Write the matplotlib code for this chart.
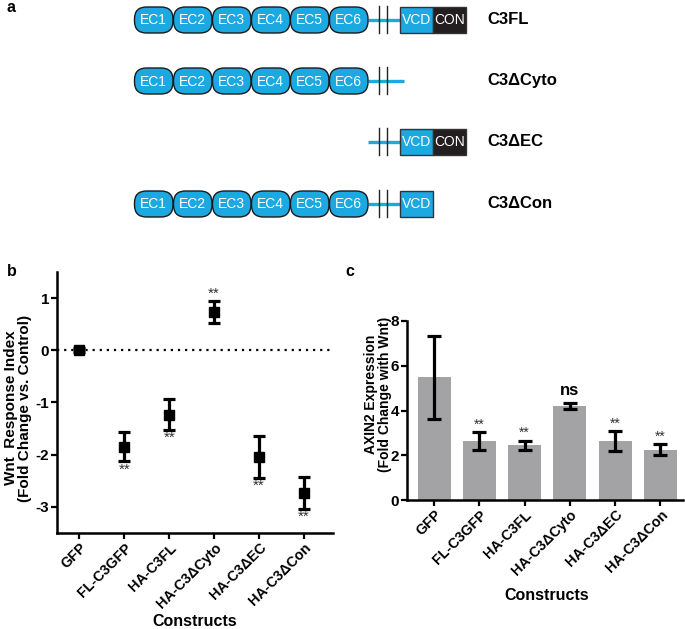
import matplotlib
matplotlib.use('Agg')
import matplotlib.pyplot as plt
from matplotlib.patches import FancyBboxPatch, Rectangle
import numpy as np

plt.rcParams['font.family'] = ['Liberation Sans', 'DejaVu Sans']
plt.rcParams['axes.unicode_minus'] = False

# ---------------- data ----------------
# panel a (construct diagrams)
ec_domains = ["EC1", "EC2", "EC3", "EC4", "EC5", "EC6"]
construct_names = ["C3FL", "C3\u0394Cyto", "C3\u0394EC", "C3\u0394Con"]
construct_has_ec = [True, True, False, True]
construct_cyto = [["VCD", "CON"], [], ["VCD", "CON"], ["VCD"]]

# panel b
constructs = ["GFP", "FL-C3GFP", "HA-C3FL", "HA-C3\u0394Cyto", "HA-C3\u0394EC", "HA-C3\u0394Con"]
wnt_index = [0.0, -1.85, -1.23, 0.73, -2.05, -2.73]
wnt_err = [0.04, 0.28, 0.29, 0.21, 0.40, 0.31]
wnt_sig = ["", "**", "**", "**", "**", "**"]

# panel c
axin2 = [5.48, 2.65, 2.45, 4.20, 2.63, 2.25]
axin2_err = [1.87, 0.40, 0.20, 0.15, 0.45, 0.25]
axin2_sig = ["", "**", "**", "ns", "**", "**"]

# ---------------- figure ----------------
W, H = 685, 629
fig = plt.figure(figsize=(W / 100, H / 100), dpi=100)
axa = fig.add_axes([0, 0, 1, 1])
axa.set_xlim(0, W)
axa.set_ylim(H, 0)
axa.axis('off')

BLUE = '#1ca9e2'
DARK = '#231f20'

row_y = [20, 81, 142, 204]
for i, name in enumerate(construct_names):
    y = row_y[i]
    cyto = construct_cyto[i]
    line_end = 400 if cyto else 404
    axa.plot([368, line_end], [y, y], color=BLUE, lw=2.4, solid_capstyle='butt', zorder=1)
    for bx in (379, 387):
        axa.plot([bx, bx], [y - 14, y + 13], color='#222222', lw=1.0, zorder=2)
    if construct_has_ec[i]:
        for k, lab in enumerate(ec_domains):
            x0 = 134 + 39 * k
            p = FancyBboxPatch((x0 + 0.5, y - 13), 38.5, 26,
                               boxstyle="round,pad=0,rounding_size=12",
                               fc=BLUE, ec='#1a1a1a', lw=1.0, zorder=3)
            axa.add_patch(p)
            axa.text(x0 + 19.75, y + 0.5, lab, color='white', fontsize=10,
                     ha='center', va='center', zorder=4)
    bx0 = 400
    for lab in cyto:
        w = 33
        fc = BLUE if lab == "VCD" else DARK
        axa.add_patch(Rectangle((bx0, y - 13), w, 26, fc=fc, ec='#333333', lw=1.0, zorder=3))
        axa.text(bx0 + w / 2, y + 0.5, lab, color='white', fontsize=10,
                 ha='center', va='center', zorder=4)
        bx0 += w
    axa.text(487, y, name, fontsize=12, fontweight='bold', ha='left', va='center')

# panel labels
axa.text(7, 8, "a", fontsize=11.5, fontweight='bold', ha='left', va='center')
axa.text(7, 271, "b", fontsize=11.5, fontweight='bold', ha='left', va='center')
axa.text(345, 271, "c", fontsize=11.5, fontweight='bold', ha='left', va='center')

x = np.arange(len(constructs))

def style_axes(ax):
    for s in ('top', 'right'):
        ax.spines[s].set_visible(False)
    for s in ('left', 'bottom'):
        ax.spines[s].set_linewidth(1.8)
    ax.tick_params(axis='both', direction='out', length=4, width=1.6, labelsize=11, pad=1.5)
    for lab in ax.get_yticklabels():
        lab.set_fontweight('bold')
    ax.set_xticks(x)
    ax.set_xticklabels(constructs, rotation=45, ha='right', rotation_mode='anchor',
                       fontweight='bold', fontsize=10.3)
    ax.set_facecolor('none')

# ---------------- panel b ----------------
axb = fig.add_axes([57 / W, 1 - 533 / H, 276 / W, 261 / H])
axb.axhline(0, color='black', ls=(0, (1, 2.2)), lw=1.6, zorder=1)
axb.errorbar(x, wnt_index, yerr=wnt_err, fmt='s', color='black', ms=7,
             elinewidth=2.3, capsize=4, capthick=2.3, zorder=3)
axb.set_xlim(-0.5, 5.65)
axb.set_ylim(-3.5, 1.5)
axb.set_yticks([-3, -2, -1, 0, 1])
style_axes(axb)
for i, s in enumerate(wnt_sig):
    if not s:
        continue
    v, e = wnt_index[i], wnt_err[i]
    if v < 0:
        axb.text(x[i], v - e - 0.02, s, ha='center', va='top', fontsize=11, color='#333333')
    else:
        axb.text(x[i], v + e + 0.01, s, ha='center', va='bottom', fontsize=11, color='#333333')

axa.text(18, 408, "Wnt  Response Index\n(Fold Change vs. Control)", rotation=90,
         ha='center', va='center', fontsize=11, fontweight='bold', linespacing=1.0)
axa.text(195, 621, "Constructs", ha='center', va='center', fontsize=11.5, fontweight='bold')

# ---------------- panel c ----------------
axc = fig.add_axes([407 / W, 1 - 500 / H, 276 / W, 179 / H])
axc.bar(x, axin2, width=0.73, color='#a3a3a5', zorder=1)
axc.errorbar(x, axin2, yerr=axin2_err, fmt='none', ecolor='black',
             elinewidth=2.3, capsize=5, capthick=2.3, zorder=2)
axc.set_xlim(-0.6, 5.5)
axc.set_ylim(0, 8)
axc.set_yticks([0, 2, 4, 6, 8])
style_axes(axc)
for i, s in enumerate(axin2_sig):
    if not s:
        continue
    v, e = axin2[i], axin2_err[i]
    if s == "ns":
        axc.text(x[i], v + e + 0.2, s, ha='center', va='bottom', fontsize=12, fontweight='bold')
    else:
        axc.text(x[i], v + e + 0.02, s, ha='center', va='bottom', fontsize=10, color='#333333')

axa.text(378, 394, "AXIN2 Expression\n(Fold Change with Wnt)", rotation=90,
         ha='center', va='center', fontsize=10, fontweight='bold', linespacing=1.0)
axa.text(547, 595, "Constructs", ha='center', va='center', fontsize=11.5, fontweight='bold')

fig.savefig('out.png', dpi=100)
